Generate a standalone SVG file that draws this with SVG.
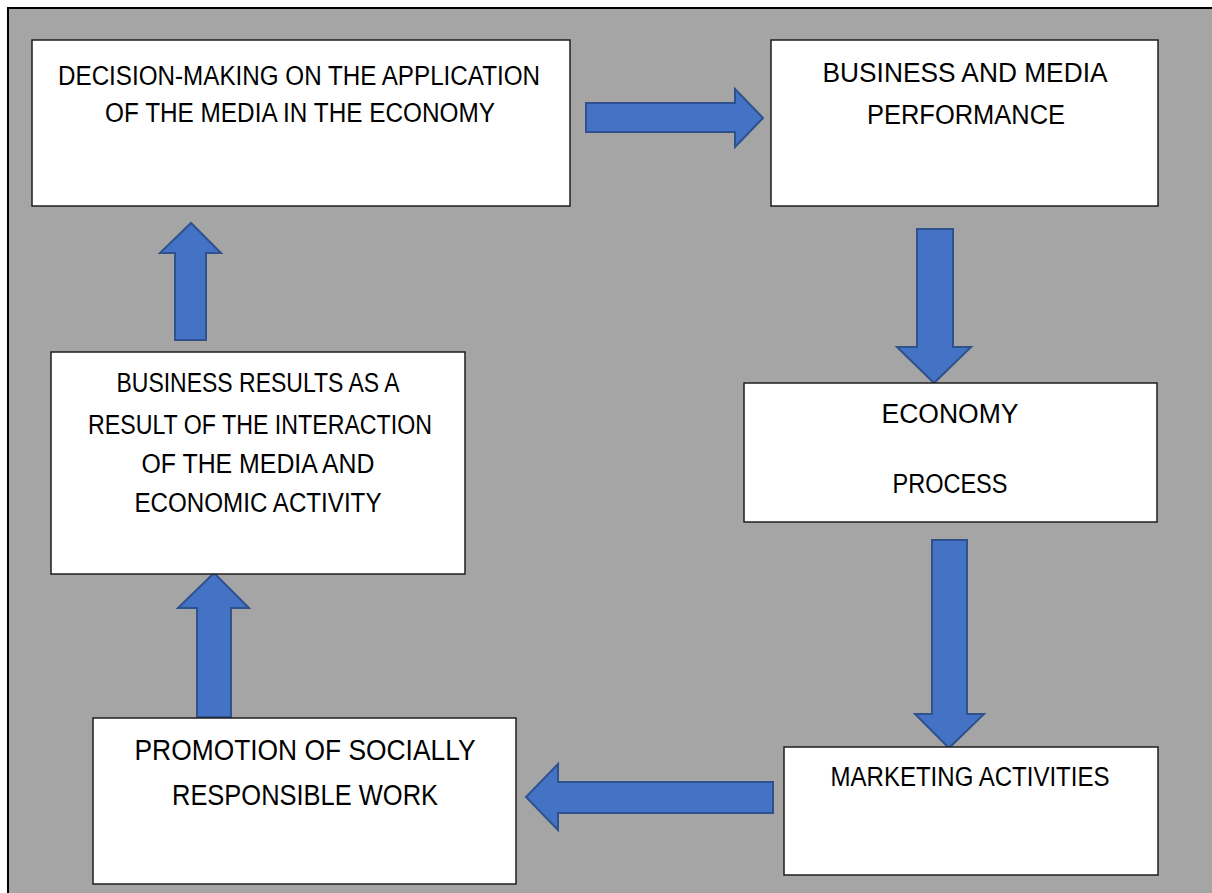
<svg xmlns="http://www.w3.org/2000/svg" width="1212" height="893" viewBox="0 0 1212 893">
<style>
.box{fill:#ffffff;stroke:#1e1e1e;stroke-width:1.5}
.arr{fill:#4472C4;stroke:#2F528F;stroke-width:2;stroke-linejoin:miter}
text{font-family:"Liberation Sans",Arial,sans-serif;fill:#000;text-anchor:middle;font-size:27px}
.big{font-size:30px}
</style>
<rect x="8" y="8" width="1212" height="893" fill="#A5A5A5" stroke="#000" stroke-width="2"/>
<g id="connectors">
<polygon class="arr" points="586,103 735,103 735,89 763,118 735,147 735,132 586,132"/>
<polygon class="arr" points="917,229 953,229 953,347 971,347 934,383 897,347 917,347"/>
<polygon class="arr" points="932,540 967,540 967,714 984,714 949,748 915,714 932,714"/>
<polygon class="arr" points="773,782 558,782 558,764 526,797 558,830 558,813 773,813"/>
<polygon class="arr" points="197,717 197,608 178,608 214,573 249,608 231,608 231,717"/>
<polygon class="arr" points="175,340 175,253 160,253 191,223 221,253 206,253 206,340"/>
</g>
<g id="node-decision">
<rect class="box" x="32" y="40" width="538" height="166"/>
<text x="299" y="85" textLength="482" lengthAdjust="spacingAndGlyphs">DECISION-MAKING ON THE APPLICATION</text>
<text x="300" y="122" textLength="390" lengthAdjust="spacingAndGlyphs">OF THE MEDIA IN THE ECONOMY</text>
</g>
<g id="node-performance">
<rect class="box" x="771" y="40" width="387" height="166"/>
<text x="965" y="82" textLength="285" lengthAdjust="spacingAndGlyphs">BUSINESS AND MEDIA</text>
<text x="966" y="124" textLength="198" lengthAdjust="spacingAndGlyphs">PERFORMANCE</text>
</g>
<g id="node-economy">
<rect class="box" x="744" y="383" width="413" height="139"/>
<text x="950" y="423" textLength="137" lengthAdjust="spacingAndGlyphs">ECONOMY</text>
<text x="950" y="493" textLength="115" lengthAdjust="spacingAndGlyphs">PROCESS</text>
</g>
<g id="node-marketing">
<rect class="box" x="784" y="747" width="374" height="128"/>
<text x="970" y="786" textLength="279" lengthAdjust="spacingAndGlyphs">MARKETING ACTIVITIES</text>
</g>
<g id="node-promotion">
<rect class="box" x="93" y="718" width="423" height="166"/>
<text class="big" x="305" y="760" textLength="341" lengthAdjust="spacingAndGlyphs">PROMOTION OF SOCIALLY</text>
<text class="big" x="305" y="805" textLength="266" lengthAdjust="spacingAndGlyphs">RESPONSIBLE WORK</text>
</g>
<g id="node-results">
<rect class="box" x="51" y="352" width="414" height="222"/>
<text x="258" y="392" textLength="283" lengthAdjust="spacingAndGlyphs">BUSINESS RESULTS AS A</text>
<text x="260" y="434" textLength="344" lengthAdjust="spacingAndGlyphs">RESULT OF THE INTERACTION</text>
<text x="258" y="473" textLength="233" lengthAdjust="spacingAndGlyphs">OF THE MEDIA AND</text>
<text x="258" y="512" textLength="247" lengthAdjust="spacingAndGlyphs">ECONOMIC ACTIVITY</text>
</g>
</svg>
